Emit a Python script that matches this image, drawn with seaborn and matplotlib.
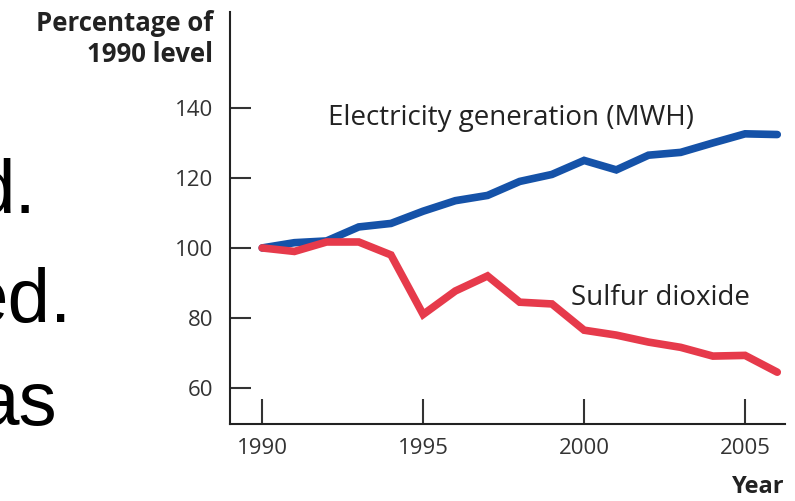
import matplotlib
matplotlib.use("Agg")
import matplotlib.pyplot as plt
import seaborn as sns
import pandas as pd

years = list(range(1990, 2007))
electricity = [100, 101.5, 102, 106, 107, 110.5, 113.5, 115, 119, 121, 125, 122.3, 126.5, 127.3, 130, 132.6, 132.4]
sulfur = [100, 99, 101.7, 101.7, 98, 81, 87.7, 92, 84.5, 84, 76.5, 75.1, 73.1, 71.6, 69.1, 69.3, 64.5]
series_names = ["Electricity generation (MWH)", "Sulfur dioxide"]
colors = ["#1552a8", "#e63a4b"]

df = pd.DataFrame({
    "Year": years * 2,
    "Value": electricity + sulfur,
    "Series": [series_names[0]] * len(years) + [series_names[1]] * len(years),
})

sns.set_style("ticks")
plt.rcParams["font.family"] = ["Open Sans", "DejaVu Sans"]

fig = plt.figure(figsize=(7.95, 5.01), dpi=100)
ax = fig.add_axes([0.2893, 0.1537, 0.6981, 0.8223])

sns.lineplot(data=df, x="Year", y="Value", hue="Series", palette=colors,
             linewidth=5.5, legend=False, ax=ax, solid_joinstyle="miter")

ax.set_xlim(1989.0, 2006.24)
ax.set_ylim(49.7, 167.4)
ax.set_xticks([1990, 1995, 2000, 2005])
ax.set_yticks([60, 80, 100, 120, 140])
ax.tick_params(axis="x", direction="in", length=18, width=1.5, pad=10,
               labelsize=16, colors="#333333")
ax.tick_params(axis="y", direction="in", length=15, width=1.5, pad=12,
               labelsize=16, colors="#333333")
for side in ["left", "bottom"]:
    ax.spines[side].set_linewidth(1.5)
    ax.spines[side].set_color("#222222")
sns.despine(ax=ax)
ax.set_xlabel("")
ax.set_ylabel("")

ax.text(1992.05, 137.2, series_names[0], fontsize=20, color="#222222", va="center")
ax.text(1999.6, 85.7, series_names[1], fontsize=20, color="#222222", va="center")

fig.text(213 / 795, 1 - 10 / 501, "Percentage of\n1990 level", ha="right", va="top",
         fontsize=18.5, fontweight="bold", color="#222222", linespacing=1.2)
fig.text(785 / 795, 1 - 499 / 501, "Year", ha="right", va="bottom",
         fontsize=17, fontweight="bold", color="#222222")

# fragments of slide text cut off at the left edge
slide_font = ["Liberation Sans", "DejaVu Sans"]
for word, right, base in [("d.", 37, 213), ("ed.", 72, 322), ("as", 57, 425)]:
    fig.text(right / 795, 1 - base / 501, word, ha="right", va="baseline",
             fontsize=55, family=slide_font, color="black")

fig.savefig("out.png", dpi=100)
